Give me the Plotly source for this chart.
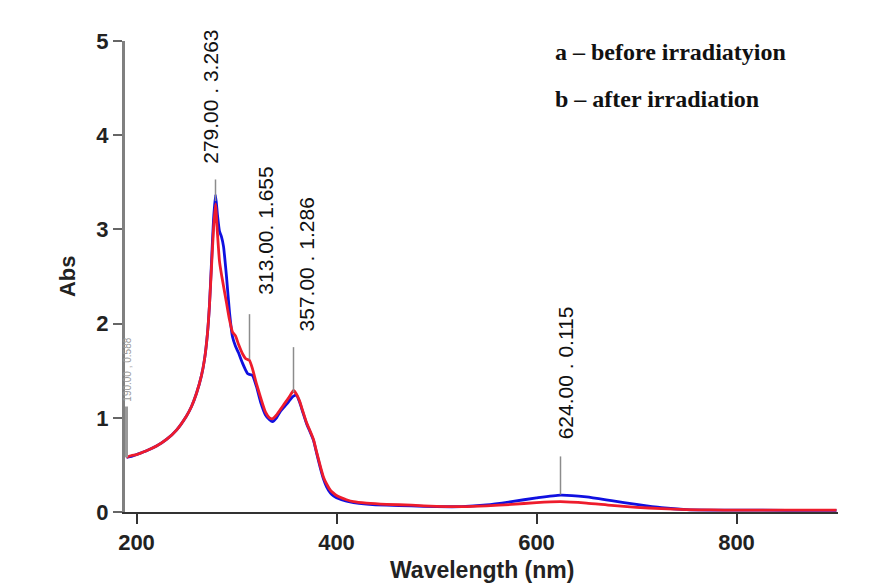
import plotly.graph_objects as go

# Wavelength grid (nm)
wavelength = [190, 195, 200, 210, 220, 230, 240, 250, 255, 260, 265, 268, 271, 273, 275, 277,
              279, 281, 283, 285, 287, 290, 293, 296, 299, 302, 306, 309, 311, 313, 316, 320,
              324, 329, 333, 336, 340, 344, 348, 352, 355, 357, 360, 363, 366, 370, 374, 377,
              380, 384, 387, 390, 394, 397, 400, 405, 410, 417, 430, 450, 475, 500, 525, 550,
              575, 600, 624, 650, 675, 700, 725, 750, 775, 800, 850, 900]

# a - before irradiation (blue)
abs_before = [0.58, 0.59, 0.61, 0.65, 0.70, 0.77, 0.87, 1.02, 1.12, 1.26, 1.45, 1.62, 1.90, 2.20, 2.65, 3.10,
              3.37, 3.15, 2.98, 2.92, 2.82, 2.50, 2.12, 1.86, 1.76, 1.69, 1.58, 1.51, 1.47, 1.46, 1.45, 1.33,
              1.17, 1.03, 0.98, 0.96, 1.00, 1.07, 1.12, 1.17, 1.21, 1.23, 1.24, 1.17, 1.07, 0.94, 0.84, 0.76,
              0.63, 0.46, 0.35, 0.27, 0.20, 0.17, 0.15, 0.13, 0.115, 0.10, 0.085, 0.072, 0.064, 0.057, 0.057, 0.075,
              0.11, 0.15, 0.18, 0.16, 0.12, 0.08, 0.045, 0.025, 0.02, 0.02, 0.018, 0.018]

# b - after irradiation (red)
abs_after = [0.58, 0.60, 0.61, 0.65, 0.70, 0.77, 0.87, 1.02, 1.12, 1.26, 1.45, 1.62, 1.90, 2.20, 2.60, 3.00,
             3.27, 2.95, 2.66, 2.52, 2.40, 2.22, 2.04, 1.91, 1.87, 1.78, 1.68, 1.63, 1.62, 1.61, 1.52, 1.36,
             1.22, 1.06, 1.00, 0.99, 1.03, 1.09, 1.15, 1.21, 1.26, 1.29, 1.25, 1.18, 1.08, 0.95, 0.85, 0.77,
             0.64, 0.48, 0.37, 0.30, 0.23, 0.20, 0.175, 0.15, 0.13, 0.11, 0.095, 0.082, 0.072, 0.06, 0.057, 0.065,
             0.08, 0.10, 0.11, 0.095, 0.07, 0.05, 0.035, 0.025, 0.022, 0.02, 0.02, 0.02]

# Peak labels
peak_x = [279, 313, 357, 624]
peak_y = [3.263, 1.655, 1.286, 0.115]
peak_line_bottom = [3.30, 1.62, 1.27, 0.185]
peak_line_top = [3.53, 2.10, 1.75, 0.59]
peak_text = ["279.00 . 3.263", "313.00. 1.655", "357.00 . 1.286", "624.00 . 0.115"]
peak_text_x = [274, 329, 370, 629]
peak_text_bottom = [3.67, 2.28, 1.89, 0.75]

edge_x = 190
edge_text = "190.00 , 0.588"

legend_lines = ["a – before irradiatyion", "b – after irradiation"]

fig = go.Figure()
fig.add_trace(go.Scatter(x=wavelength, y=abs_before, mode="lines",
                         line=dict(color="#1010e0", width=2.8, shape="spline", smoothing=0.5),
                         showlegend=False))
fig.add_trace(go.Scatter(x=wavelength, y=abs_after, mode="lines",
                         line=dict(color="#ee1c2c", width=2.8, shape="spline", smoothing=0.5),
                         showlegend=False))

for px_, lb, lt, txt, tx, tb in zip(peak_x, peak_line_bottom, peak_line_top, peak_text, peak_text_x, peak_text_bottom):
    fig.add_shape(type="line", xref="x", yref="y", x0=px_, x1=px_, y0=lb, y1=lt,
                  line=dict(color="#8c8c8c", width=1.5))
    fig.add_annotation(x=tx, y=tb, xref="x", yref="y", text=txt, textangle=-90,
                       showarrow=False, xanchor="center", yanchor="bottom",
                       font=dict(family="Liberation Sans", size=21, color="#111111"))

fig.add_shape(type="line", xref="x", yref="y", x0=edge_x, x1=edge_x, y0=0.58, y1=1.12,
              line=dict(color="#9a9a9a", width=3))
fig.add_annotation(x=edge_x + 1.5, y=1.15, xref="x", yref="y", text=edge_text, textangle=-90,
                   showarrow=False, xanchor="center", yanchor="bottom",
                   font=dict(family="Liberation Sans", size=10, color="#9a9a9a"))

for i, t in enumerate(legend_lines):
    fig.add_annotation(x=0.600, y=[0.977, 0.877][i], xref="paper", yref="paper", text=t,
                       showarrow=False, xanchor="left", yanchor="middle",
                       font=dict(family="Liberation Serif", size=24, color="#111111", weight="bold"))

fig.add_annotation(x=-0.0813, y=0.501, xref="paper", yref="paper", text="Abs", textangle=-90,
                   showarrow=False, xanchor="center", yanchor="middle",
                   font=dict(family="Liberation Sans", size=22, color="#222222", weight="bold"))
fig.add_annotation(x=0.5007, y=-0.1225, xref="paper", yref="paper", text="Wavelength (nm)",
                   showarrow=False, xanchor="center", yanchor="middle",
                   font=dict(family="Liberation Sans", size=23, color="#222222", weight="bold"))

fig.update_xaxes(range=[188.5, 901.5], tickvals=[200, 400, 600, 800], ticks="outside",
                 ticklen=10, tickwidth=1.5, tickcolor="#333333", showline=True,
                 linecolor="#333333", linewidth=2, showgrid=False, zeroline=False,
                 tickfont=dict(family="Liberation Sans", size=22, color="#222222", weight="bold"))
fig.update_yaxes(range=[0, 5], tickvals=[0, 1, 2, 3, 4, 5], ticks="outside",
                 ticklen=9, tickwidth=1.5, tickcolor="#666666", showline=True,
                 linecolor="#808080", linewidth=3, showgrid=False, zeroline=False,
                 tickfont=dict(family="Liberation Sans", size=22, color="#222222", weight="bold"))

fig.update_layout(width=892, height=584, margin=dict(l=125, r=54, t=41, b=72),
                  plot_bgcolor="white", paper_bgcolor="white")

fig.write_html("out.html", config={"displayModeBar": False},
               post_script="document.body.style.margin='0px';document.body.style.overflow='hidden';")
